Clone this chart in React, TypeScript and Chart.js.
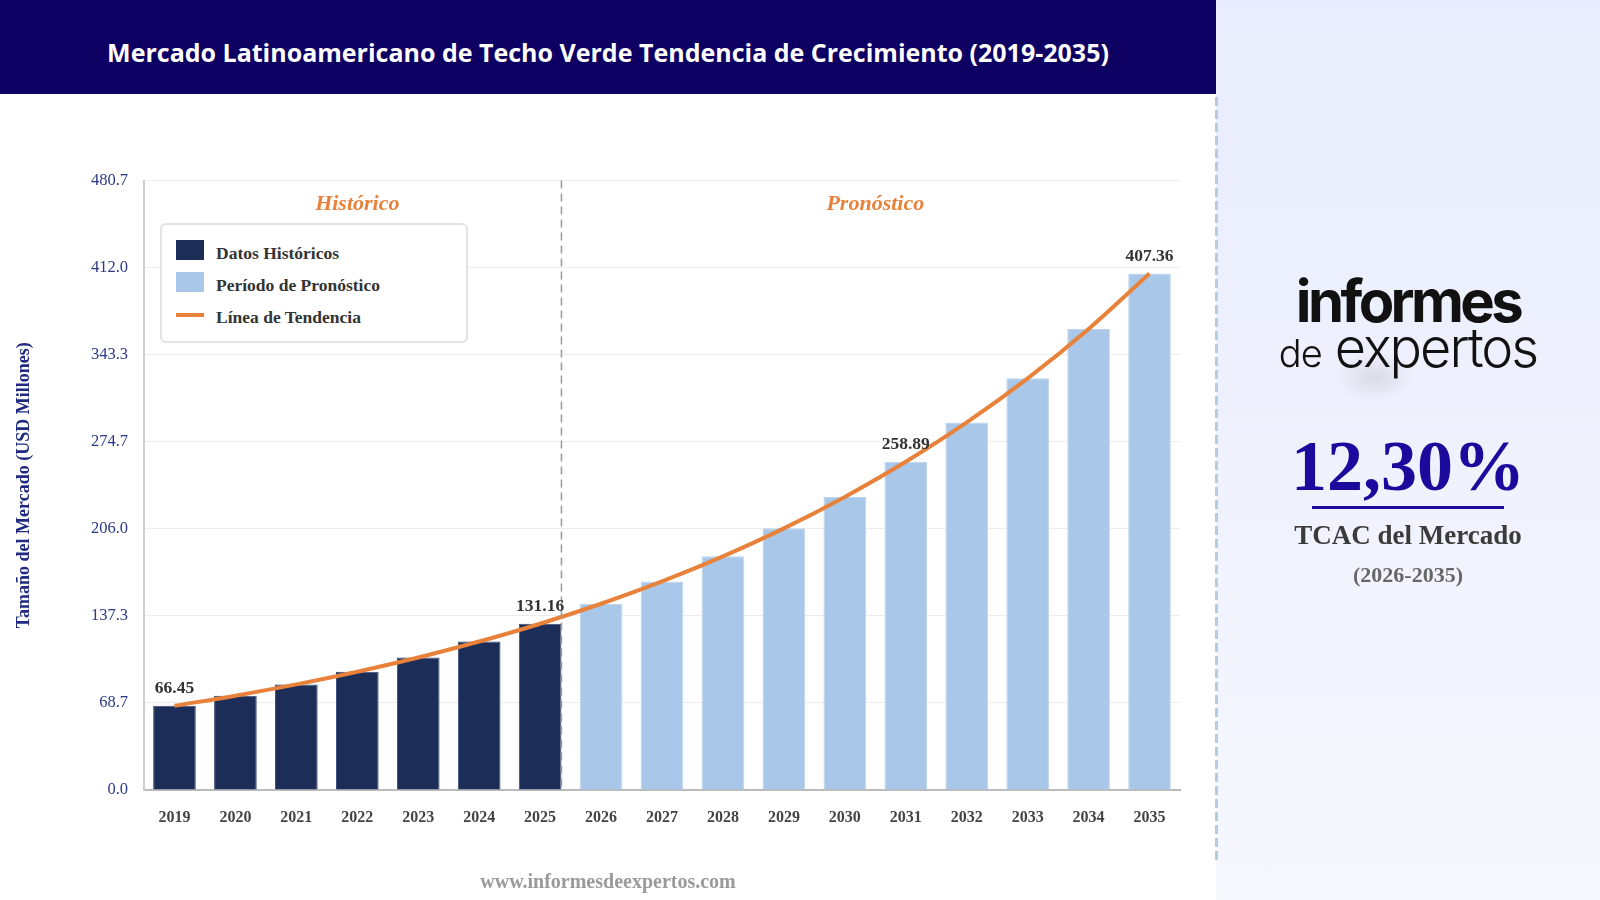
import React, { useEffect, useRef } from "react";
import { Chart, registerables } from "chart.js";

Chart.register(...registerables);

const years = ["2019", "2020", "2021", "2022", "2023", "2024", "2025", "2026", "2027", "2028", "2029", "2030", "2031", "2032", "2033", "2034", "2035"];
const historicalValues = [66.45, 74.4, 83.3, 93.3, 104.5, 117.1, 131.16, null, null, null, null, null, null, null, null, null, null];
const forecastValues = [null, null, null, null, null, null, null, 146.9, 164.5, 184.3, 206.4, 231.2, 258.89, 289.9, 324.7, 363.7, 407.36];
const trendValues = [66.45, 74.4, 83.3, 93.3, 104.5, 117.1, 131.16, 146.9, 164.5, 184.3, 206.4, 231.2, 258.89, 289.9, 324.7, 363.7, 407.36];
const yTickValues = [0, 68.67, 137.34, 206.01, 274.67, 343.34, 412.01, 480.68];
const labeledYears = ["2019", "2025", "2031", "2035"];
const lastHistoricalYear = "2025";

const NAVY = "#1c2d58";
const LIGHT = "#a9c8e9";
const ORANGE = "#e8823a";
const SERIF = "'Liberation Serif', 'Times New Roman', serif";

const annotationPlugin = {
  id: "annotations",
  afterDatasetsDraw(chart: any) {
    const { ctx, chartArea, scales } = chart;
    const x = scales.x;
    const y = scales.y;
    const idx = years.indexOf(lastHistoricalYear);
    const catW = x.getPixelForValue(1) - x.getPixelForValue(0);
    const divX = x.getPixelForValue(idx) + catW * 0.35;
    ctx.save();
    ctx.strokeStyle = "#9a9a9a";
    ctx.lineWidth = 1.5;
    ctx.setLineDash([8, 5]);
    ctx.beginPath();
    ctx.moveTo(divX, chartArea.top);
    ctx.lineTo(divX, chartArea.bottom);
    ctx.stroke();
    ctx.setLineDash([]);

    ctx.fillStyle = ORANGE;
    ctx.font = `italic bold 22px ${SERIF}`;
    ctx.textAlign = "center";
    ctx.textBaseline = "alphabetic";
    const histX = (x.getPixelForValue(0) + x.getPixelForValue(idx)) / 2;
    const foreX = (x.getPixelForValue(idx + 1) + x.getPixelForValue(years.length - 1)) / 2;
    ctx.fillText("Histórico", histX, chartArea.top + 29);
    ctx.fillText("Pronóstico", foreX, chartArea.top + 29);

    ctx.fillStyle = "#333333";
    ctx.font = `bold 17.5px ${SERIF}`;
    labeledYears.forEach((yr) => {
      const i = years.indexOf(yr);
      const v = trendValues[i];
      ctx.fillText(v.toFixed(2), x.getPixelForValue(i), y.getPixelForValue(v) - 13);
    });
    ctx.restore();
  },
};

function ChartCanvas() {
  const ref = useRef<HTMLCanvasElement | null>(null);
  useEffect(() => {
    if (!ref.current) return;
    const chart = new Chart(ref.current, {
      type: "bar",
      data: {
        labels: years,
        datasets: [
          {
            type: "line",
            label: "Línea de Tendencia",
            data: trendValues,
            borderColor: ORANGE,
            borderWidth: 4,
            tension: 0.4,
            pointRadius: 0,
            fill: false,
            order: 0,
          } as any,
          {
            label: "Datos Históricos",
            data: historicalValues,
            backgroundColor: NAVY,
            borderColor: "#3a4a72",
            borderWidth: 1,
            order: 1,
          },
          {
            label: "Período de Pronóstico",
            data: forecastValues,
            backgroundColor: LIGHT,
            borderColor: "#bcd5ee",
            borderWidth: 1,
            order: 1,
          },
        ],
      },
      options: {
        animation: false,
        responsive: true,
        maintainAspectRatio: false,
        layout: { padding: { left: 0, right: 36, top: 86.6, bottom: 60 } },
        datasets: { bar: { grouped: false, categoryPercentage: 0.7, barPercentage: 1.0 } } as any,
        plugins: { legend: { display: false }, tooltip: { enabled: false } },
        scales: {
          x: {
            grid: { display: false, drawTicks: false },
            border: { display: true, color: "#bbbbbb", width: 2 },
            ticks: { color: "#444444", font: { family: SERIF, size: 16, weight: "bold" }, padding: 18 },
            afterFit: (s: any) => { s.height = 50; },
          },
          y: {
            min: 0,
            max: yTickValues[yTickValues.length - 1],
            afterBuildTicks: (s: any) => { s.ticks = yTickValues.map((v) => ({ value: v })); },
            grid: { color: "#ececec", lineWidth: 1, drawTicks: false },
            border: { display: true, color: "#cfcfcf", width: 2 },
            ticks: {
              color: "#2c3985",
              font: { family: SERIF, size: 16.5 },
              padding: 16,
              callback: (v: any) => Number(v).toFixed(1),
            },
            title: {
              display: true,
              text: "Tamaño del Mercado (USD Millones)",
              color: "#1f2a80",
              font: { family: SERIF, size: 18, weight: "bold" },
              padding: { top: 14, bottom: 0 },
            },
            afterFit: (s: any) => { s.width = 144; },
          },
        },
      } as any,
      plugins: [annotationPlugin],
    });
    return () => chart.destroy();
  }, []);
  return (
    <div style={{ position: "absolute", left: 0, top: 94, width: 1216, height: 806 }}>
      <canvas ref={ref} />
    </div>
  );
}

export default function App() {
  const legendText: React.CSSProperties = {
    position: "absolute",
    left: 54,
    fontFamily: SERIF,
    fontWeight: "bold",
    fontSize: 17.5,
    lineHeight: "17.5px",
    color: "#333",
    whiteSpace: "nowrap",
  };
  return (
    <div style={{ position: "fixed", left: 0, top: 0, width: 1600, height: 900, background: "#ffffff", overflow: "hidden" }}>
      <div style={{ position: "absolute", left: 0, top: 0, width: 1216, height: 94, background: "#0e0063" }} />
      <div
        style={{
          position: "absolute", left: 0, top: 40, width: 1216, textAlign: "center",
          fontFamily: "'Open Sans', sans-serif", fontWeight: 700, fontSize: 25, lineHeight: "25px", color: "#ffffff", whiteSpace: "nowrap",
        }}
      >
        Mercado Latinoamericano de Techo Verde Tendencia de Crecimiento (2019-2035)
      </div>

      <ChartCanvas />

      <div style={{ position: "absolute", left: 160, top: 223, width: 304, height: 116, border: "2px solid #e3e3e3", borderRadius: 6, background: "#ffffff" }}>
        <div style={{ position: "absolute", left: 14, top: 15, width: 28, height: 20, background: NAVY }} />
        <div style={{ ...legendText, top: 20 }}>Datos Históricos</div>
        <div style={{ position: "absolute", left: 14, top: 47, width: 28, height: 20, background: LIGHT }} />
        <div style={{ ...legendText, top: 52 }}>Período de Pronóstico</div>
        <div style={{ position: "absolute", left: 14, top: 88, width: 28, height: 4, background: ORANGE }} />
        <div style={{ ...legendText, top: 84 }}>Línea de Tendencia</div>
      </div>

      <div
        style={{
          position: "absolute", left: 0, top: 871, width: 1216, textAlign: "center",
          fontFamily: SERIF, fontWeight: "bold", fontSize: 20, lineHeight: "20px", color: "#9a9a9a",
        }}
      >
        www.informesdeexpertos.com
      </div>

      <div style={{ position: "absolute", left: 1216, top: 0, width: 384, height: 900, background: "linear-gradient(to bottom, #e8ecfc, #f6f8fe)" }} />
      <div
        style={{
          position: "absolute", left: 1215, top: 97, width: 3, height: 766,
          background: "repeating-linear-gradient(to bottom, #b8cbe3 0px, #b8cbe3 9px, transparent 9px, transparent 13px)",
        }}
      />
      <div style={{ position: "absolute", left: 1335, top: 352, width: 80, height: 50, borderRadius: "50%", background: "radial-gradient(ellipse at center, rgba(0,0,0,0.09), rgba(0,0,0,0) 70%)" }} />
      <div
        style={{
          position: "absolute", left: 1216, top: 272, width: 384, textAlign: "center",
          fontFamily: "Inter, 'Noto Sans', sans-serif", fontWeight: 700, fontSize: 58, lineHeight: "58px", letterSpacing: -3.6, color: "#111111",
        }}
      >
        informes
      </div>
      <div
        style={{
          position: "absolute", left: 1216, top: 321, width: 384, textAlign: "center",
          fontFamily: "Inter, 'Noto Sans', sans-serif", fontWeight: 300, fontSize: 54, lineHeight: "54px", letterSpacing: -2, color: "#111111", whiteSpace: "nowrap",
        }}
      >
        <span style={{ fontSize: 38, letterSpacing: -1 }}>de</span> <span>expertos</span>
      </div>
      <div
        style={{
          position: "absolute", left: 1216, top: 430, width: 384, textAlign: "center",
          fontFamily: SERIF, fontWeight: "bold", fontSize: 72, lineHeight: "72px", color: "#1c0a9c",
        }}
      >
        12,30%
      </div>
      <div style={{ position: "absolute", left: 1312, top: 506, width: 192, height: 3, background: "#1c0a9c" }} />
      <div
        style={{
          position: "absolute", left: 1216, top: 522, width: 384, textAlign: "center",
          fontFamily: SERIF, fontWeight: "bold", fontSize: 27, lineHeight: "27px", color: "#3b3b3b",
        }}
      >
        TCAC del Mercado
      </div>
      <div
        style={{
          position: "absolute", left: 1216, top: 564, width: 384, textAlign: "center",
          fontFamily: SERIF, fontWeight: "bold", fontSize: 22, lineHeight: "22px", color: "#666666",
        }}
      >
        (2026-2035)
      </div>
    </div>
  );
}
